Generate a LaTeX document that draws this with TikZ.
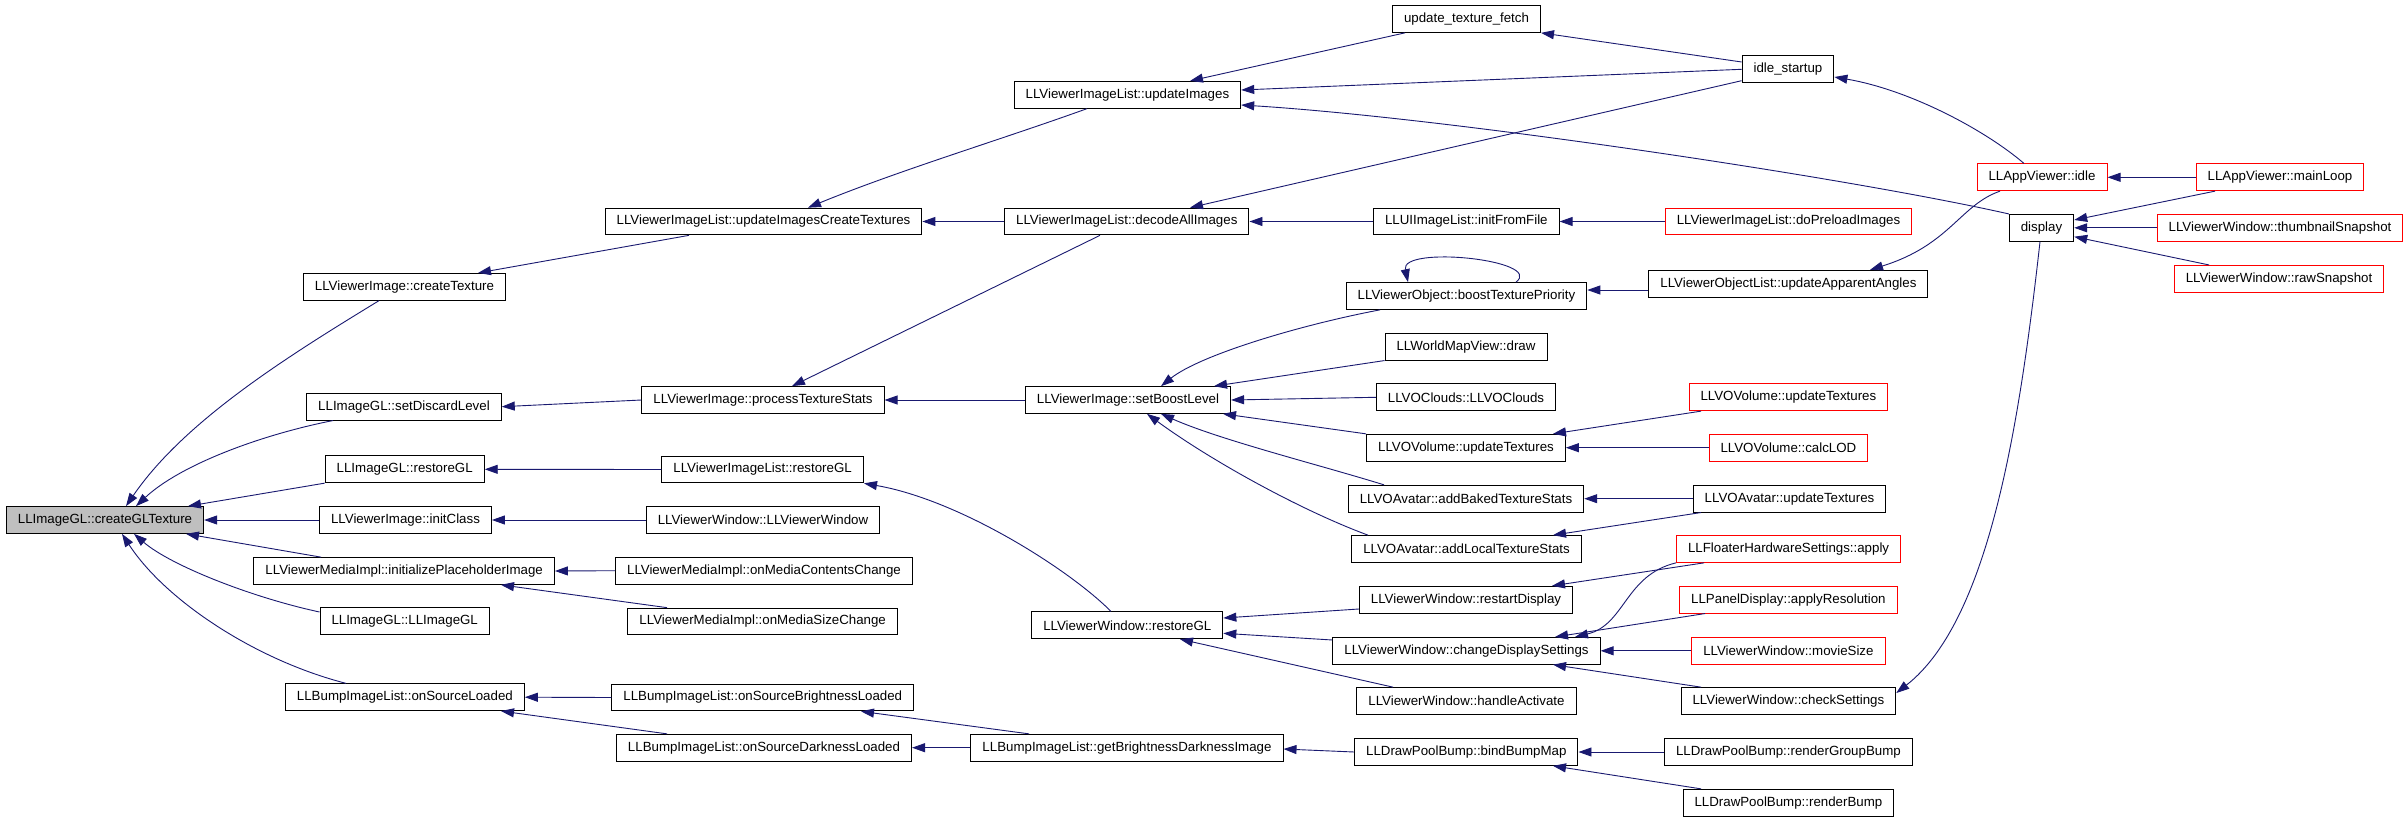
\documentclass[tikz,border=0pt]{standalone}
\usepackage{fontspec}
\setmainfont{Liberation Sans}
\usetikzlibrary{arrows.meta}
\definecolor{edgeblue}{HTML}{191970}
\definecolor{nodegray}{HTML}{BFBFBF}
\begin{document}
\begin{tikzpicture}[x=1pt,y=-1pt,
  box/.style={draw=black,line width=1pt,fill=white,minimum height=26.7pt,inner xsep=11.5pt,inner ysep=0pt,font=\fontsize{13.3}{16}\selectfont},
  redbox/.style={box,draw=red},
  edge/.style={draw=edgeblue,line width=0.9pt,-{Triangle[length=13pt,width=9pt]}}]
\fill[white] (0,0) rectangle (2408,821);
\useasboundingbox (0,0) rectangle (2408,821);
% column 0
\node[box,fill=nodegray] (cgl) at (105,520) {LLImageGL::createGLTexture};
% column 1
\node[box] (ct) at (404.5,286.8) {LLViewerImage::createTexture};
\node[box] (sdl) at (404,406.7) {LLImageGL::setDiscardLevel};
\node[box] (irg) at (404.7,469.3) {LLImageGL::restoreGL};
\node[box] (ic) at (405.5,520) {LLViewerImage::initClass};
\node[box] (pli) at (404.2,571) {LLViewerMediaImpl::initializePlaceholderImage};
\node[box] (lig) at (404.7,621.3) {LLImageGL::LLImageGL};
\node[box] (osl) at (404.9,697.2) {LLBumpImageList::onSourceLoaded};
% column 2
\node[box] (uict) at (763.5,221.5) {LLViewerImageList::updateImagesCreateTextures};
\node[box] (pts) at (763,400) {LLViewerImage::processTextureStats};
\node[box] (virg) at (762.6,469.5) {LLViewerImageList::restoreGL};
\node[box] (vwc) at (763,520) {LLViewerWindow::LLViewerWindow};
\node[box] (omcc) at (764,570.7) {LLViewerMediaImpl::onMediaContentsChange};
\node[box] (omsc) at (762.7,621.5) {LLViewerMediaImpl::onMediaSizeChange};
\node[box] (osbl) at (762.8,697.5) {LLBumpImageList::onSourceBrightnessLoaded};
\node[box] (osdl) at (764,747.7) {LLBumpImageList::onSourceDarknessLoaded};
% column 3
\node[box] (ui) at (1127.4,94.8) {LLViewerImageList::updateImages};
\node[box] (dai) at (1126.8,221.5) {LLViewerImageList::decodeAllImages};
\node[box] (sbl) at (1128,400) {LLViewerImage::setBoostLevel};
\node[box] (vwrg) at (1127.3,625.3) {LLViewerWindow::restoreGL};
\node[box] (gbdi) at (1127,747.7) {LLBumpImageList::getBrightnessDarknessImage};
% column 4
\node[box] (utf) at (1466.5,19) {update\_texture\_fetch};
\node[box] (iff) at (1466.3,221.5) {LLUIImageList::initFromFile};
\node[box] (btp) at (1466.5,296) {LLViewerObject::boostTexturePriority};
\node[box] (wmd) at (1466,346.7) {LLWorldMapView::draw};
\node[box] (voc) at (1466,397.3) {LLVOClouds::LLVOClouds};
\node[box] (vvut) at (1466,447.7) {LLVOVolume::updateTextures};
\node[box] (abts) at (1466,498.7) {LLVOAvatar::addBakedTextureStats};
\node[box] (alts) at (1466.5,549) {LLVOAvatar::addLocalTextureStats};
\node[box] (rd) at (1466,599.7) {LLViewerWindow::restartDisplay};
\node[box] (cds) at (1466.5,650.8) {LLViewerWindow::changeDisplaySettings};
\node[box] (ha) at (1466.5,701) {LLViewerWindow::handleActivate};
\node[box] (bbm) at (1466.3,752) {LLDrawPoolBump::bindBumpMap};
% column 5
\node[box] (is) at (1788,69.3) {idle\_startup};
\node[redbox] (dpi) at (1788.5,221.5) {LLViewerImageList::doPreloadImages};
\node[box] (uaa) at (1788.4,283.7) {LLViewerObjectList::updateApparentAngles};
\node[redbox] (vvutr) at (1788.4,397.3) {LLVOVolume::updateTextures};
\node[redbox] (clod) at (1788.4,447.7) {LLVOVolume::calcLOD};
\node[box] (vaut) at (1789.5,498.7) {LLVOAvatar::updateTextures};
\node[redbox] (fhsa) at (1788.6,549) {LLFloaterHardwareSettings::apply};
\node[redbox] (pdar) at (1788.4,599.7) {LLPanelDisplay::applyResolution};
\node[redbox] (ms) at (1788.4,650.8) {LLViewerWindow::movieSize};
\node[box] (cs) at (1788.4,701) {LLViewerWindow::checkSettings};
\node[box] (rgb) at (1788.4,752) {LLDrawPoolBump::renderGroupBump};
\node[box] (rb) at (1788.4,802.7) {LLDrawPoolBump::renderBump};
% column 6
\node[redbox] (avi) at (2042,177.3) {LLAppViewer::idle};
\node[box] (disp) at (2041.5,227.8) {display};
% column 7
\node[redbox] (ml) at (2280,177.3) {LLAppViewer::mainLoop};
\node[redbox] (ts) at (2280,227.8) {LLViewerWindow::thumbnailSnapshot};
\node[redbox] (rs) at (2279,278.8) {LLViewerWindow::rawSnapshot};

% edges into createGLTexture
\draw[edge] (ct.south -| 379,0) .. controls (290,355) and (185,420) .. (cgl.north -| 126,0);
\draw[edge] (sdl.south -| 333,0) .. controls (260,435) and (180,465) .. (cgl.north -| 136,0);
\draw[edge] (irg.south west) -- (cgl.north -| 188,0);
\draw[edge] (ic.west) -- (cgl.east);
\draw[edge] (pli.north -| 321,0) -- (cgl.south -| 186,0);
\draw[edge] (lig.west |- 0,612) .. controls (250,597) and (170,565) .. (cgl.south -| 134,0);
\draw[edge] (osl.north -| 346,0) .. controls (255,660) and (165,600) .. (cgl.south -| 122,0);
% column 2 -> column 1
\draw[edge] (uict.south -| 689,0) -- (ct.north -| 478,0);
\draw[edge] (pts.west) -- (sdl.east);
\draw[edge] (virg.west) -- (irg.east);
\draw[edge] (vwc.west) -- (ic.east);
\draw[edge] (omcc.west) -- (pli.east);
\draw[edge] (omsc.north -| 667,0) -- (pli.south -| 501,0);
\draw[edge] (osbl.west) -- (osl.east);
\draw[edge] (osdl.north -| 667,0) -- (osl.south -| 501,0);
% column 3 -> column 2
\draw[edge] (ui.south -| 1087,0) .. controls (1000,140) and (900,170) .. (uict.north -| 808,0);
\draw[edge] (dai.west) -- (uict.east);
\draw[edge] (dai.south -| 1100,0) -- (pts.north -| 792,0);
\draw[edge] (sbl.west) -- (pts.east);
\draw[edge] (vwrg.north -| 1111,0) .. controls (1070,570) and (960,500) .. (virg.south -| 864,0);
\draw[edge] (gbdi.north -| 1029,0) -- (osbl.south -| 861,0);
\draw[edge] (gbdi.west) -- (osdl.east);
% into updateImages / decodeAllImages
\draw[edge] (utf.south -| 1405,0) -- (ui.north -| 1190,0);
\draw[edge] (is.west) -- (ui.east |- 0,90);
\draw[edge] (disp.north west) .. controls (1850,178) and (1450,118) .. (ui.east |- 0,105);
\draw[edge] (is.west |- 0,80.7) -- (dai.north -| 1190,0);
\draw[edge] (iff.west) -- (dai.east);
\draw[edge] (dpi.west) -- (iff.east);
\draw[edge] (is.west |- 0,62) -- (utf.south east);
\draw[edge] (avi.north -| 2024,0) .. controls (1985,130) and (1910,90) .. (is.east |- 0,77);
\draw[edge] (ml.west) -- (avi.east);
\draw[edge] (ml.south -| 2215,0) -- (disp.east |- 0,220);
\draw[edge] (ts.west) -- (disp.east);
\draw[edge] (rs.north -| 2209,0) -- (disp.east |- 0,236.7);
\draw[edge] (avi.south -| 2000,0) .. controls (1960,205) and (1950,245) .. (uaa.north -| 1870,0);
\draw[edge] (uaa.west |- 0,290) -- (btp.east |- 0,290);
\draw[edge] (btp.north -| 1516,0) .. controls (1545,260) and (1400,245) .. (btp.north -| 1408,0);
% into setBoostLevel
\draw[edge] (btp.south -| 1380,0) .. controls (1300,325) and (1200,355) .. (sbl.north -| 1161,0);
\draw[edge] (wmd.south west) -- (sbl.north -| 1214,0);
\draw[edge] (voc.west) -- (sbl.east);
\draw[edge] (vvut.north -| 1366,0) -- (sbl.south -| 1223,0);
\draw[edge] (abts.north -| 1384,0) .. controls (1320,465) and (1220,440) .. (sbl.south -| 1161,0);
\draw[edge] (alts.north -| 1368,0) .. controls (1300,510) and (1210,460) .. (sbl.south -| 1147,0);
\draw[edge] (vvutr.south -| 1701,0) -- (vvut.north -| 1553,0);
\draw[edge] (clod.west) -- (vvut.east);
\draw[edge] (vaut.west) -- (abts.east);
\draw[edge] (vaut.south -| 1701,0) -- (alts.north -| 1553,0);
% into LLViewerWindow::restoreGL
\draw[edge] (rd.west |- 0,609) -- (vwrg.east |- 0,618);
\draw[edge] (cds.west |- 0,640) -- (vwrg.east |- 0,633.3);
\draw[edge] (ha.north -| 1393,0) -- (vwrg.south -| 1180,0);
\draw[edge] (fhsa.south -| 1704,0) -- (rd.north -| 1552,0);
\draw[edge] (fhsa.south west) .. controls (1625,575) and (1625,625) .. (cds.north -| 1575,0);
\draw[edge] (pdar.south -| 1705,0) -- (cds.north -| 1555,0);
\draw[edge] (ms.west) -- (cds.east);
\draw[edge] (cs.north -| 1701,0) -- (cds.south -| 1553,0);
\draw[edge] (disp.south -| 2040,0) .. controls (2020,420) and (1990,620) .. (cs.east |- 0,693);
% bump
\draw[edge] (bbm.west) -- (gbdi.east |- 0,749);
\draw[edge] (rgb.west) -- (bbm.east);
\draw[edge] (rb.north -| 1701,0) -- (bbm.south -| 1553,0);
\end{tikzpicture}
\end{document}
